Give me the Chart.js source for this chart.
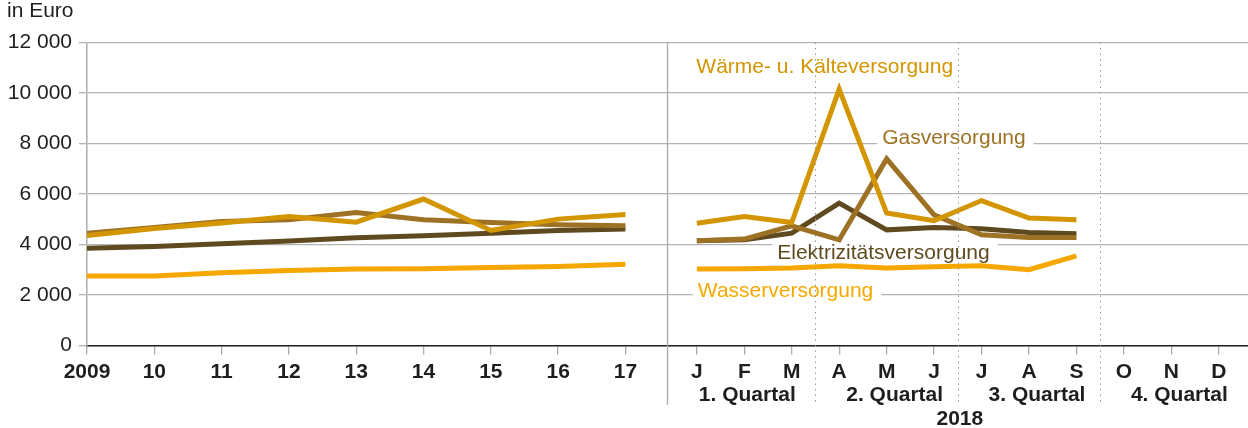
<!DOCTYPE html>
<html><head><meta charset="utf-8">
<script src="https://cdn.jsdelivr.net/npm/chart.js@4.4.1/dist/chart.umd.min.js"></script>
<style>html,body{margin:0;padding:0;background:#fff}#wrap{position:relative;width:1248px;height:428px}</style>
</head><body><div id="wrap"><canvas id="c"></canvas></div>
<script>
// ---- data ----
const yearLabels = ['2009','10','11','12','13','14','15','16','17'];
const monthLabels = ['J','F','M','A','M','J','J','A','S','O','N','D'];
const quarterLabels = ['1. Quartal','2. Quartal','3. Quartal','4. Quartal'];
const monthsYear = '2018';
const unitLabel = 'in Euro';
const yTicks = [0,2000,4000,6000,8000,10000,12000];
const seriesNames = ['Wasserversorgung','Elektrizitätsversorgung','Gasversorgung','Wärme- u. Kälteversorgung'];
const wasserYears  = [2750,2750,2880,2970,3025,3040,3090,3130,3220];
const wasserMonths = [3025,3040,3065,3155,3065,3115,3155,3000,3550,null,null,null];
const elektroYears  = [3855,3920,4030,4135,4265,4345,4450,4555,4610];
const elektroMonths = [4145,4185,4450,5640,4580,4670,4620,4475,4425,null,null,null];
const gasYears  = [4450,4670,4910,4980,5265,4980,4870,4780,4740];
const gasMonths = [4145,4215,4740,4185,7390,5175,4385,4280,4280,null,null,null];
const waermeYears  = [4355,4635,4850,5110,4885,5800,4555,5005,5190];
const waermeMonths = [4845,5110,4870,10150,5245,4940,5740,5045,4980,null,null,null];

// ---- layout (not data) ----
const GAP = 1.061, MSTEP = 0.705, XMAX = 17.25;
const yearX = i => i;
const monthX = m => (yearLabels.length - 1) + GAP + m * MSTEP;
const colors = ['#F6A800', '#5F4A20', '#9E7224', '#D39500'];
const FONT = 'Arial, "Liberation Sans", Helvetica, sans-serif';
const TXT = '#1e1e1e';

function series(ys, ms) {
  const pts = ys.map((v, i) => ({x: yearX(i), y: v}));
  pts.push({x: (yearX(ys.length - 1) + monthX(0)) / 2, y: null});
  ms.forEach((v, m) => pts.push({x: monthX(m), y: v}));
  return pts;
}
const allSeries = [
  [wasserYears, wasserMonths], [elektroYears, elektroMonths],
  [gasYears, gasMonths], [waermeYears, waermeMonths]
];
const datasets = allSeries.map((s, k) => ({
  label: seriesNames[k], data: series(s[0], s[1]),
  borderColor: colors[k], borderWidth: 5, pointRadius: 0,
  borderCapStyle: 'butt', borderJoinStyle: 'miter', tension: 0,
  spanGaps: false, fill: false, order: 4 - k
}));
const tickPos = yearLabels.map((_, i) => yearX(i)).concat(monthLabels.map((_, m) => monthX(m)));
const tickText = yearLabels.concat(monthLabels);

// series labels: anchor at a month position + pixel nudge, baseline at a value
const labelSpecs = [
  {k: 3, m: 0, dx: -0.5, v: 10800, box: false},
  {k: 2, m: 4, dx: -4.5, v: 8000, box: true},
  {k: 1, m: 2, dx: -14.5, v: 3430, box: true},
  {k: 0, m: 0, dx: 1, v: 1910, box: true}
];

const decor = {
  id: 'decor',
  beforeDatasetsDraw(chart) {
    const {ctx, scales: {x, y}} = chart;
    ctx.save();
    ctx.font = '21px ' + FONT;
    ctx.textBaseline = 'alphabetic';
    labelSpecs.forEach(s => {
      const px = x.getPixelForValue(monthX(s.m)) + s.dx;
      const py = y.getPixelForValue(s.v);
      const t = seriesNames[s.k];
      const w = ctx.measureText(t).width;
      if (s.box) { ctx.fillStyle = '#fff'; ctx.fillRect(px - 5, py - 17, w + 13, 22); }
      ctx.fillStyle = colors[s.k];
      ctx.fillText(t, px, py);
    });
    ctx.restore();
  },
  afterDraw(chart) {
    const {ctx, chartArea: ca, scales: {x, y}} = chart;
    ctx.save();
    const bottom = 405;
    // solid divider between years and months
    const sx = Math.round(x.getPixelForValue(monthX(-0.62))) + 0.5;
    ctx.strokeStyle = '#aaaaaa'; ctx.lineWidth = 1.3;
    ctx.beginPath(); ctx.moveTo(sx, ca.top); ctx.lineTo(sx, bottom); ctx.stroke();
    // dotted quarter dividers
    ctx.strokeStyle = '#999'; ctx.lineWidth = 1; ctx.setLineDash([1.5, 4]);
    [2.5, 5.5, 8.5].forEach(m => {
      const qx = Math.round(x.getPixelForValue(monthX(m))) + 0.5;
      ctx.beginPath(); ctx.moveTo(qx, ca.top); ctx.lineTo(qx, bottom); ctx.stroke();
    });
    ctx.setLineDash([]);
    // quarter labels
    ctx.fillStyle = TXT; ctx.font = 'bold 21px ' + FONT; ctx.textAlign = 'center'; ctx.textBaseline = 'alphabetic';
    quarterLabels.forEach((q, i) => {
      const cx = x.getPixelForValue(monthX(i * 3 + 1)) + (i === 0 ? 3 : 8);
      ctx.fillText(q, cx, 401);
    });
    ctx.fillText(monthsYear, (x.getPixelForValue(monthX(0)) + x.getPixelForValue(monthX(11))) / 2 + 2, 425);
    // unit label
    ctx.font = '21px ' + FONT; ctx.textAlign = 'left';
    ctx.fillText(unitLabel, 7, 17);
    ctx.restore();
  }
};

Chart.defaults.font.family = FONT;
new Chart(document.getElementById('c'), {
  type: 'line',
  data: {datasets},
  options: {
    responsive: true, maintainAspectRatio: false, animation: false,
    layout: {padding: {top: 42.5, left: 0, right: 0, bottom: 0}},
    plugins: {legend: {display: false}, tooltip: {enabled: false}},
    scales: {
      x: {
        type: 'linear', min: 0, max: XMAX,
        afterBuildTicks: s => { s.ticks = tickPos.map(v => ({value: v})); },
        afterFit: s => { s.height = 82.5; },
        grid: {display: true, drawOnChartArea: false, drawTicks: true, tickLength: 9, color: '#aaaaaa', lineWidth: 1.3},
        border: {display: true, color: '#222', width: 1.6},
        ticks: {autoSkip: false, maxRotation: 0, minRotation: 0, padding: 5,
          color: TXT, font: {size: 21, weight: 'bold'},
          callback: (v, i) => tickText[i]}
      },
      y: {
        min: 0, max: 12000,
        afterBuildTicks: s => { s.ticks = yTicks.map(v => ({value: v})); },
        afterFit: s => { s.width = 87; },
        grid: {color: '#b3b3b3', lineWidth: 1.3, tickLength: 8, drawTicks: true},
        border: {display: true, color: '#b3b3b3', width: 1.6},
        ticks: {padding: 7, color: TXT, font: {size: 21},
          callback: v => String(v).replace(/\B(?=(\d{3})+(?!\d))/g, ' ')}
      }
    }
  },
  plugins: [decor]
});
</script>
</body></html>
